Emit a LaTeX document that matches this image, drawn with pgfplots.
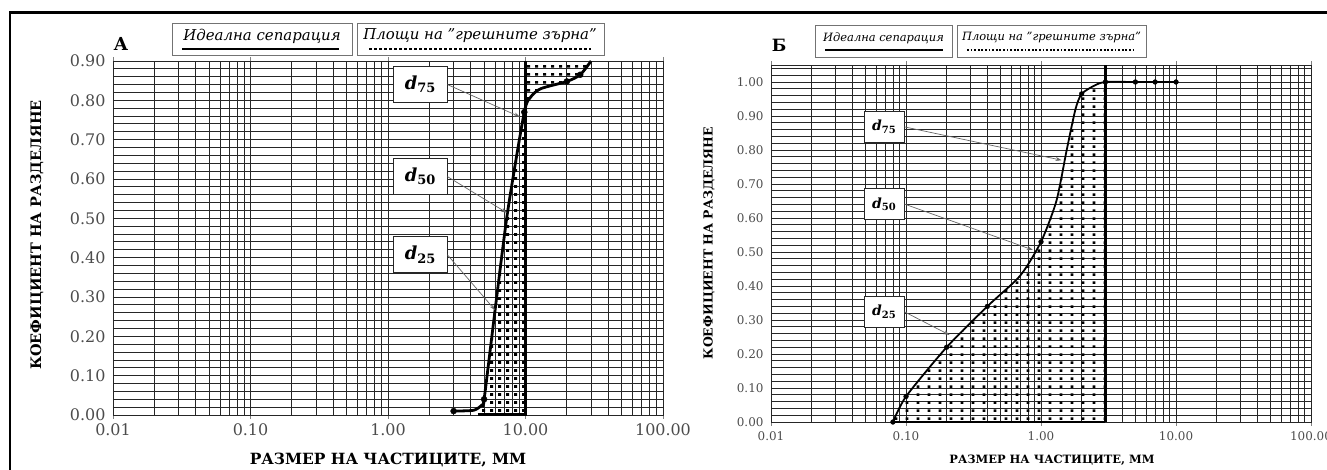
\documentclass[border=0pt]{standalone}
\usepackage{pgfplots}
\pgfplotsset{compat=1.18}
\usepackage{fontspec}
\setmainfont{DejaVu Serif}
\usetikzlibrary{patterns,arrows.meta}

\pgfdeclarepatternformonly{dotsA}{\pgfqpoint{0bp}{0bp}}{\pgfqpoint{7.5bp}{8bp}}{\pgfqpoint{7.5bp}{8bp}}{\pgfpathrectangle{\pgfqpoint{2.3bp}{2.5bp}}{\pgfqpoint{3bp}{3bp}}\pgfusepath{fill}}
\pgfdeclarepatternformonly{dotsB}{\pgfqpoint{0bp}{0bp}}{\pgfqpoint{11bp}{8bp}}{\pgfqpoint{11bp}{8bp}}{\pgfpathrectangle{\pgfqpoint{4bp}{2.5bp}}{\pgfqpoint{2.8bp}{2.8bp}}\pgfusepath{fill}}

\tikzset{
  dbox/.style={draw=black!85, fill=white, line width=0.9bp, inner sep=0pt},
  darrow/.style={draw=black!60, line width=0.7bp, -{Stealth[length=6bp,width=4bp]}},
}

\begin{document}
\begin{tikzpicture}[x=1bp,y=1bp]
\useasboundingbox (0,0) rectangle (1327,470);
\draw[line width=2.6bp] (10,-5) -- (10,457.3) -- (1340,457.3);

% ---------------- Panel A ----------------
\begin{axis}[at={(113bp,55bp)}, anchor=south west,
  scale only axis, width=550bp, height=354bp,
  xmode=log, log basis x=10, xmin=0.01, xmax=100,
  ymin=0, ymax=0.9, clip=false,
  grid=both,
  major grid style={draw=black!85, line width=0.85bp},
  minor grid style={draw=black!85, line width=0.85bp},
  axis line style={draw=black!85, line width=0.85bp},
  xtick={0.01,0.1,1,10,100},
  xticklabels={0.01,0.10,1.00,10.00,100.00},
  minor xtick={0.02,0.03,0.04,0.05,0.06,0.07,0.08,0.09,0.2,0.3,0.4,0.5,0.6,0.7,0.8,0.9,2,3,4,5,6,7,8,9,20,30,40,50,60,70,80,90},
  ytick={0,0.1,0.2,0.3,0.4,0.5,0.6,0.7,0.8,0.9},
  yticklabels={0.00,0.10,0.20,0.30,0.40,0.50,0.60,0.70,0.80,0.90},
  minor y tick num=4,
  tick align=outside, major tick length=4bp, minor tick length=0pt,
  ytick style={draw=none},
  tick label style={text=black!70, font=\fontsize{16}{16}\selectfont},
  xticklabel style={yshift=-1bp},
]
\addplot[pattern=dotsA, pattern color=black, draw=none]
  coordinates {(4.5,0.013)(5,0.04)(6,0.265)(7.4,0.515)(9.8,0.77)(10,0.78)(10,0)(4.5,0)};
\addplot[pattern=dotsA, pattern color=black, draw=none]
  coordinates {(10,0.78)(11,0.81)(13,0.83)(20,0.848)(25,0.865)(30,0.9)(10,0.9)};
\addplot[black, line width=3bp] coordinates {(4.5,0)(10,0)(10,0.9)};
\addplot[black, line width=2.8bp, smooth, tension=0.4]
  coordinates {(3,0.01)(4.2,0.012)(4.8,0.025)(5,0.04)(6,0.265)(7.4,0.515)(9.8,0.77)(11,0.81)(13,0.83)(20,0.848)(25,0.865)(30,0.9)};
\addplot[only marks, mark=*, mark size=3bp, black]
  coordinates {(3,0.01)(5,0.04)(9.8,0.77)(20,0.848)(25,0.865)};
\node[dbox, minimum width=54bp, minimum height=36bp] (a75) at (axis cs:1.71,0.84)
  {\fontsize{18}{18}\selectfont\bfseries\itshape d\raisebox{-0.35ex}{\fontsize{13}{13}\selectfont\upshape 75}};
\node[dbox, minimum width=54bp, minimum height=36bp] (a50) at (axis cs:1.71,0.606)
  {\fontsize{18}{18}\selectfont\bfseries\itshape d\raisebox{-0.35ex}{\fontsize{13}{13}\selectfont\upshape 50}};
\node[dbox, minimum width=54bp, minimum height=36bp] (a25) at (axis cs:1.71,0.407)
  {\fontsize{18}{18}\selectfont\bfseries\itshape d\raisebox{-0.35ex}{\fontsize{13}{13}\selectfont\upshape 25}};
\draw[darrow] (a75.east) -- (axis cs:9.1,0.758);
\draw[darrow] (a50.east) -- (axis cs:7.33,0.514);
\draw[darrow] (a25.east) -- (axis cs:6.0,0.267);
\end{axis}

% ---------------- Panel B ----------------
\begin{axis}[at={(771bp,48bp)}, anchor=south west,
  scale only axis, width=540bp, height=357bp,
  xmode=log, log basis x=10, xmin=0.01, xmax=100,
  ymin=0, ymax=1.05, clip=false,
  grid=both,
  major grid style={draw=black!85, line width=0.8bp},
  minor grid style={draw=black!85, line width=0.8bp},
  axis line style={draw=black!85, line width=0.8bp},
  xtick={0.01,0.1,1,10,100},
  xticklabels={0.01,0.10,1.00,10.00,100.00},
  minor xtick={0.02,0.03,0.04,0.05,0.06,0.07,0.08,0.09,0.2,0.3,0.4,0.5,0.6,0.7,0.8,0.9,2,3,4,5,6,7,8,9,20,30,40,50,60,70,80,90},
  ytick={0,0.1,0.2,0.3,0.4,0.5,0.6,0.7,0.8,0.9,1.0},
  yticklabels={0.00,0.10,0.20,0.30,0.40,0.50,0.60,0.70,0.80,0.90,1.00},
  minor ytick={0.02,0.04,0.06,0.08,0.12,0.14,0.16,0.18,0.22,0.24,0.26,0.28,0.32,0.34,0.36,0.38,0.42,0.44,0.46,0.48,0.52,0.54,0.56,0.58,0.62,0.64,0.66,0.68,0.72,0.74,0.76,0.78,0.82,0.84,0.86,0.88,0.92,0.94,0.96,0.98,1.02,1.04},
  tick align=outside, major tick length=4bp, minor tick length=0pt,
  ytick style={draw=none},
  tick label style={text=black!70, font=\fontsize{12}{12}\selectfont},
  xticklabel style={yshift=-2bp},
]
\addplot[pattern=dotsB, pattern color=black, draw=none]
  coordinates {(0.08,0)(0.1,0.075)(0.2,0.22)(0.4,0.34)(0.7,0.43)(1.0,0.53)(1.3,0.65)(1.55,0.80)(1.8,0.92)(2.0,0.965)(2.5,0.99)(3,1.0)(3,0)};
\addplot[black, line width=2.6bp] coordinates {(0.08,0)(3,0)};
\addplot[black, line width=3.6bp] coordinates {(3,0)(3,1.05)};
\addplot[black, line width=1.8bp, smooth, tension=0.4]
  coordinates {(0.08,0)(0.1,0.075)(0.2,0.22)(0.4,0.34)(0.7,0.43)(1.0,0.53)(1.3,0.65)(1.55,0.80)(1.8,0.92)(2.0,0.965)(2.5,0.99)(3,1.0)(5,1.0)(7,1.0)(10,1.0)};
\addplot[only marks, mark=*, mark size=2.4bp, black]
  coordinates {(0.08,0)(0.1,0.075)(0.2,0.22)(0.4,0.34)(1.0,0.53)(2.0,0.965)(3,1.0)(5,1.0)(7,1.0)(10,1.0)};
\node[dbox, minimum width=40bp, minimum height=31bp] (b75) at (axis cs:0.0687,0.868)
  {\fontsize{14}{14}\selectfont\bfseries\itshape d\raisebox{-0.35ex}{\fontsize{10}{10}\selectfont\upshape 75}};
\node[dbox, minimum width=40bp, minimum height=31bp] (b50) at (axis cs:0.0687,0.641)
  {\fontsize{14}{14}\selectfont\bfseries\itshape d\raisebox{-0.35ex}{\fontsize{10}{10}\selectfont\upshape 50}};
\node[dbox, minimum width=40bp, minimum height=31bp] (b25) at (axis cs:0.0687,0.324)
  {\fontsize{14}{14}\selectfont\bfseries\itshape d\raisebox{-0.35ex}{\fontsize{10}{10}\selectfont\upshape 25}};
\draw[darrow] (b75.east) -- (axis cs:1.42,0.77);
\draw[darrow] (b50.east) -- (axis cs:0.87,0.506);
\draw[darrow] (b25.east) -- (axis cs:0.21,0.256);
\end{axis}

% ---------------- Texts ----------------
\node[font=\fontsize{18}{18}\selectfont\bfseries] at (121,426.5) {А};
\node[font=\fontsize{17}{17}\selectfont\bfseries] at (779,425) {Б};

% legend A
\draw[draw=black!55, line width=0.8bp] (172,415) rectangle (352,447);
\node[font=\fontsize{15}{15}\selectfont\itshape] at (262,434) {Идеална сепарация};
\draw[line width=2.5bp] (182,421) -- (339,421);
\draw[draw=black!55, line width=0.8bp] (357,415) rectangle (604,447);
\node[font=\fontsize{15}{15}\selectfont\itshape] at (480,434) {Площи на "грешните зърна"};
\draw[line width=2.5bp, dash pattern=on 2.5bp off 2.5bp] (369,421) -- (591,421);

% legend B
\draw[draw=black!55, line width=0.8bp] (815,413) rectangle (952,445);
\node[font=\fontsize{11.5}{11.5}\selectfont\itshape] at (883.5,432) {Идеална сепарация};
\draw[line width=2.2bp] (825,420) -- (943,420);
\draw[draw=black!55, line width=0.8bp] (957,413) rectangle (1146,445);
\node[font=\fontsize{11.5}{11.5}\selectfont\itshape] at (1051.5,432) {Площи на "грешните зърна"};
\draw[line width=2bp, dash pattern=on 1.8bp off 1.8bp] (967,420) -- (1136,420);

% axis titles
\node[font=\fontsize{15.5}{15.5}\selectfont\bfseries] at (388,10) {РАЗМЕР НА ЧАСТИЦИТЕ, ММ};
\node[font=\fontsize{11.5}{11.5}\selectfont\bfseries] at (1052,10) {РАЗМЕР НА ЧАСТИЦИТЕ, ММ};
\node[font=\fontsize{14.5}{14.5}\selectfont\bfseries, rotate=90] at (37,235) {КОЕФИЦИЕНТ НА РАЗДЕЛЯНЕ};
\node[font=\fontsize{12.5}{12.5}\selectfont\bfseries, rotate=90] at (709,227) {КОЕФИЦИЕНТ НА РАЗДЕЛЯНЕ};
\end{tikzpicture}
\end{document}
